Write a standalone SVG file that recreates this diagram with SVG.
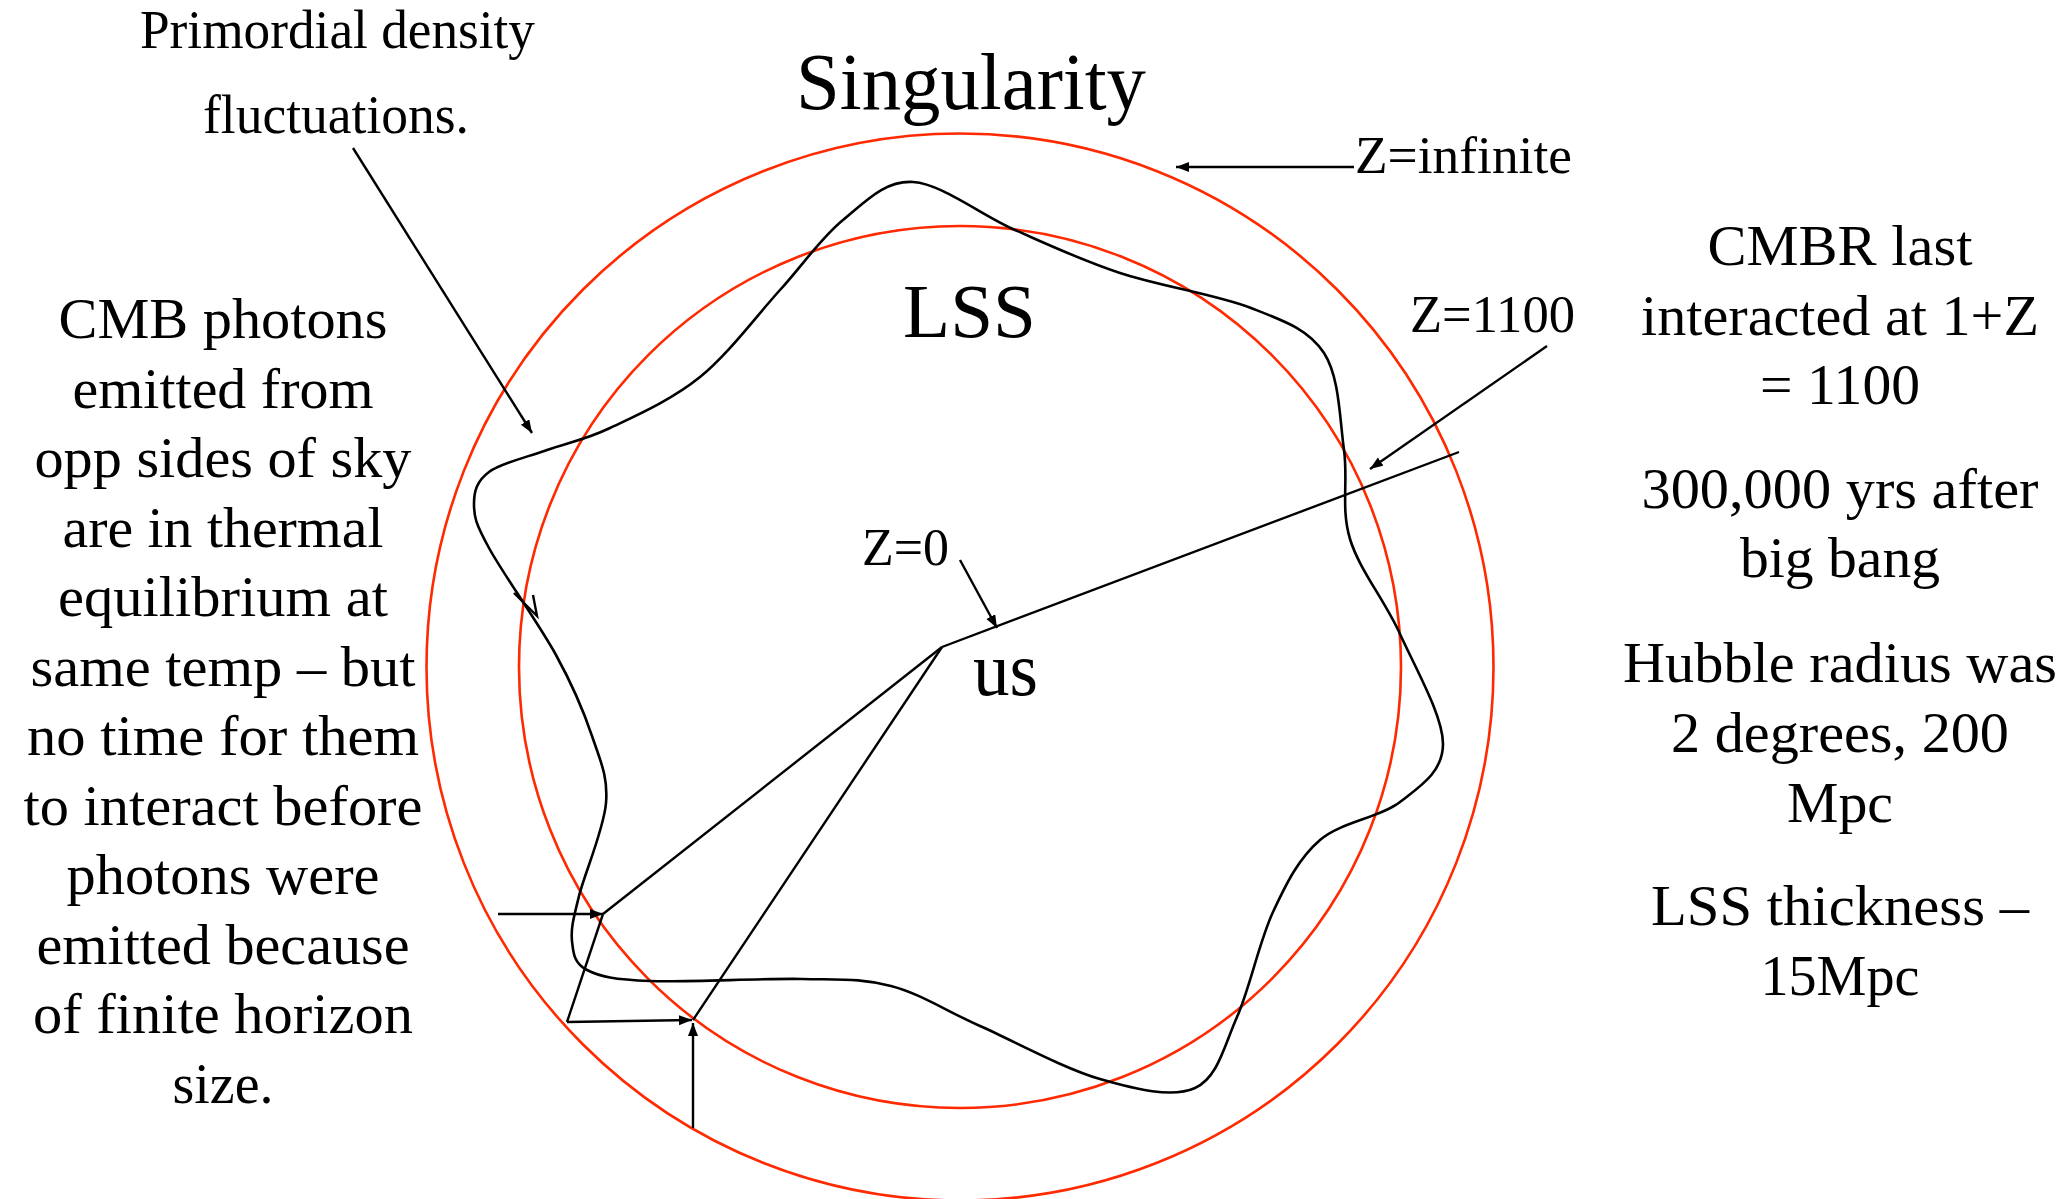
<svg xmlns="http://www.w3.org/2000/svg" width="2068" height="1199" viewBox="0 0 2068 1199">
<style>
  text { font-family: "Liberation Serif", "Times New Roman", serif; fill: #000; }
  .blk { font-size: 58px; text-anchor: middle; }
  .lbl { font-size: 52px; }
  .red { fill: none; stroke: #ff2a00; stroke-width: 2.6; }
  .ln { fill: none; stroke: #000; stroke-width: 2.4; }
  .curve { fill: none; stroke: #000; stroke-width: 2.6; }
</style>
<defs>
  <marker id="ah" markerUnits="userSpaceOnUse" markerWidth="16" markerHeight="12" refX="13" refY="5" orient="auto">
    <path d="M0,0 L13,5 L0,10 Z" fill="#000"/>
  </marker>
</defs>
<rect width="2068" height="1199" fill="#fff"/>

<g id="outer-circle"><circle class="red" cx="960" cy="667" r="533.5"/></g>
<g id="inner-circle"><circle class="red" cx="960" cy="667" r="441"/></g>

<g id="density-curve">
<path class="curve" d="M913,182 C941.7,183.7 980.5,214.8 1015,230 C1049.5,245.2 1080.7,260 1120,273 C1159.3,286 1217,294.7 1251,308 C1285,321.3 1308.5,329.3 1324,353 C1339.5,376.7 1339.7,419 1344,450 C1348.3,481 1340.7,508.3 1350,539 C1359.3,569.7 1384.5,599.8 1400,634 C1415.5,668.2 1443,716 1443,744 C1443,772 1420.5,786 1400,802 C1379.5,818 1341.2,821.7 1320,840 C1298.8,858.3 1286.8,882.5 1273,912 C1259.2,941.5 1250,987.7 1237,1017 C1224,1046.3 1217.8,1077.7 1195,1088 C1172.2,1098.3 1135.8,1089.3 1100,1079 C1064.2,1068.7 1014.8,1041.5 980,1026 C945.2,1010.5 920.7,993.8 891,986 C861.3,978.2 842.2,979.8 802,979 C761.8,978.2 685.8,982.5 650,981 C614.2,979.5 600,976.7 587,970 C574,963.3 573.3,953.3 572,941 C570.7,928.7 573.3,919 579,896 C584.7,873 603.8,829.7 606,803 C608.2,776.3 600.3,760.7 592,736 C583.7,711.3 573.2,686.3 556,655 C538.8,623.7 502.7,573.2 489,548 C475.3,522.8 474,516.7 474,504 C474,491.3 476.8,481 489,472 C501.2,463 526.8,457.3 547,450 C567.2,442.7 584.5,440.2 610,428 C635.5,415.8 671.7,400 700,377 C728.3,354 756.2,316.2 780,290 C803.8,263.8 820.8,238 843,220 C865.2,202 884.3,180.3 913,182 Z"/>
<path class="ln" stroke-width="3" d="M514,593 L537,616 L533,595"/>
</g>

<g id="connectors">
  <line class="ln" x1="353" y1="148" x2="532" y2="433" marker-end="url(#ah)"/>
  <line class="ln" x1="1354" y1="167" x2="1176" y2="167" marker-end="url(#ah)"/>
  <line class="ln" x1="1547" y1="346" x2="1370" y2="469" marker-end="url(#ah)"/>
  <line class="ln" x1="960" y1="560" x2="997" y2="628" marker-end="url(#ah)"/>
  <line class="ln" x1="942" y1="647" x2="1459" y2="452"/>
  <line class="ln" x1="942" y1="647" x2="603" y2="914"/>
  <line class="ln" x1="498" y1="914" x2="603" y2="914" marker-end="url(#ah)"/>
  <line class="ln" x1="603" y1="914" x2="567" y2="1022"/>
  <line class="ln" x1="567" y1="1022" x2="692" y2="1020" marker-end="url(#ah)"/>
  <line class="ln" x1="693" y1="1020" x2="942" y2="647"/>
  <line class="ln" x1="693" y1="1128" x2="693" y2="1023" marker-end="url(#ah)"/>
</g>

<g id="label-primordial">
  <text x="140" y="48" font-size="54" textLength="395" lengthAdjust="spacingAndGlyphs">Primordial density</text>
  <text x="203" y="133" font-size="54" textLength="266" lengthAdjust="spacingAndGlyphs">fluctuations.</text>
</g>
<g id="label-singularity"><text x="796" y="109" font-size="80" textLength="350" lengthAdjust="spacingAndGlyphs">Singularity</text></g>
<g id="label-zinf"><text class="lbl" x="1355" y="173" textLength="217" lengthAdjust="spacingAndGlyphs">Z=infinite</text></g>
<g id="label-lss"><text x="903" y="337" font-size="76" textLength="133" lengthAdjust="spacingAndGlyphs">LSS</text></g>
<g id="label-z1100"><text class="lbl" x="1410" y="332" textLength="165" lengthAdjust="spacingAndGlyphs">Z=1100</text></g>
<g id="label-z0"><text class="lbl" x="862" y="565" textLength="87" lengthAdjust="spacingAndGlyphs">Z=0</text></g>
<g id="label-us"><text x="973" y="695" font-size="76" textLength="65" lengthAdjust="spacingAndGlyphs">us</text></g>

<g id="text-left">
  <text class="blk" x="223" y="338" textLength="329" lengthAdjust="spacingAndGlyphs">CMB photons</text>
  <text class="blk" x="223" y="408" textLength="301" lengthAdjust="spacingAndGlyphs">emitted from</text>
  <text class="blk" x="223" y="477" textLength="377" lengthAdjust="spacingAndGlyphs">opp sides of sky</text>
  <text class="blk" x="223" y="547" textLength="321" lengthAdjust="spacingAndGlyphs">are in thermal</text>
  <text class="blk" x="223" y="616" textLength="330" lengthAdjust="spacingAndGlyphs">equilibrium at</text>
  <text class="blk" x="223" y="686" textLength="385" lengthAdjust="spacingAndGlyphs">same temp – but</text>
  <text class="blk" x="223" y="755" textLength="392" lengthAdjust="spacingAndGlyphs">no time for them</text>
  <text class="blk" x="223" y="825" textLength="399" lengthAdjust="spacingAndGlyphs">to interact before</text>
  <text class="blk" x="223" y="894" textLength="313" lengthAdjust="spacingAndGlyphs">photons were</text>
  <text class="blk" x="223" y="964" textLength="373" lengthAdjust="spacingAndGlyphs">emitted because</text>
  <text class="blk" x="223" y="1033" textLength="380" lengthAdjust="spacingAndGlyphs">of finite horizon</text>
  <text class="blk" x="223" y="1103" textLength="101" lengthAdjust="spacingAndGlyphs">size.</text>
</g>

<g id="text-right">
  <text class="blk" x="1840" y="265" textLength="265" lengthAdjust="spacingAndGlyphs">CMBR last</text>
  <text class="blk" x="1840" y="335" textLength="398" lengthAdjust="spacingAndGlyphs">interacted at 1+Z</text>
  <text class="blk" x="1840" y="404" textLength="160" lengthAdjust="spacingAndGlyphs">= 1100</text>
  <text class="blk" x="1840" y="508" textLength="397" lengthAdjust="spacingAndGlyphs">300,000 yrs after</text>
  <text class="blk" x="1840" y="577" textLength="200" lengthAdjust="spacingAndGlyphs">big bang</text>
  <text class="blk" x="1840" y="682" textLength="434" lengthAdjust="spacingAndGlyphs">Hubble radius was</text>
  <text class="blk" x="1840" y="752" textLength="338" lengthAdjust="spacingAndGlyphs">2 degrees, 200</text>
  <text class="blk" x="1840" y="822" textLength="106" lengthAdjust="spacingAndGlyphs">Mpc</text>
  <text class="blk" x="1840" y="925" textLength="378" lengthAdjust="spacingAndGlyphs">LSS thickness –</text>
  <text class="blk" x="1840" y="995" textLength="159" lengthAdjust="spacingAndGlyphs">15Mpc</text>
</g>
</svg>
